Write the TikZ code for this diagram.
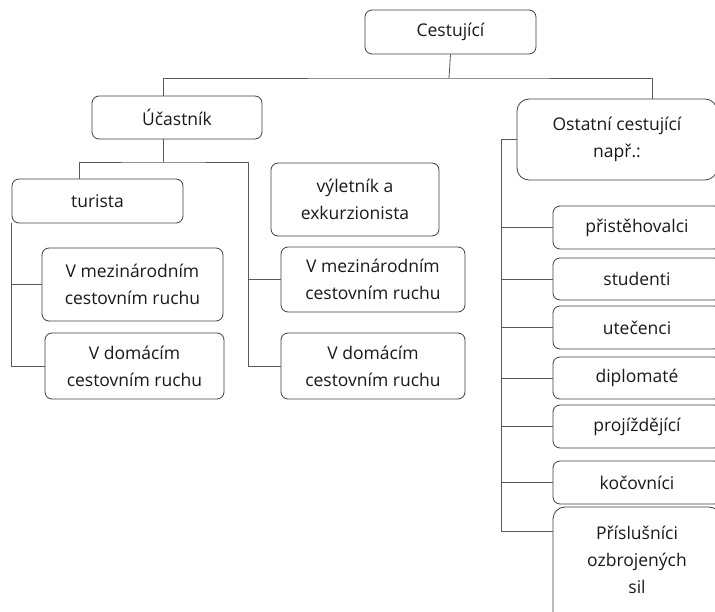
\documentclass[tikz,border=0pt]{standalone}
\usepackage{fontspec}
\setmainfont{Open Sans}
\usetikzlibrary{positioning}
\tikzset{box/.style={draw=black!75,line width=0.8pt,rounded corners=7pt,align=center,inner sep=0pt,text=black!90,font=\fontsize{17.5}{27}\selectfont},
  link/.style={draw=black!65,line width=0.8pt}}

\begin{document}
\begin{tikzpicture}[x=1pt,y=-1pt,line join=round]
\clip (0,0) rectangle (715,612);
\fill[white] (0,0) rectangle (715,612);
% --- top levels
\node[box,minimum width=171,minimum height=44] (cest) at (450.5,32) {Cestující};
\node[box,minimum width=170,minimum height=43] (ucast) at (177,117.5) {Účastník};
\node[box,rounded corners=12pt,minimum width=200,minimum height=81] (ostatni) at (617,139.5) {Ostatní cestující\\ např.:};
% --- left branch
\node[box,minimum width=171,minimum height=44] (turista) at (97.5,201) {turista};
\node[box,minimum width=168,minimum height=73] (vylet) at (355,199.5) {výletník a\\ exkurzionista};
\node[box,minimum width=181,minimum height=73] (mezL) at (132.5,284.5) {V mezinárodním\\ cestovním ruchu};
\node[box,minimum width=179,minimum height=66] (domL) at (134.5,366) {V domácím\\ cestovním ruchu};
\node[box,minimum width=184,minimum height=65] (mezR) at (373,279.5) {V mezinárodním\\ cestovním ruchu};
\node[box,minimum width=184,minimum height=66] (domR) at (373,366) {V domácím\\ cestovním ruchu};
% --- right column
\foreach \n/\y/\h/\t in {pris/227.5/43/přistěhovalci,stud/279/42/studenti,utec/327.5/43/utečenci,
  dipl/378/42/diplomaté,proj/426.5/43/projíždějící,kocov/482.5/43/kočovníci}
  \node[box,minimum width=168,minimum height=\h] (\n) at (637,\y) {\t};
\node[box,rounded corners=12pt,minimum width=168,minimum height=124] (prisl) at (637,569) {};
\node[font=\fontsize{17.5}{27}\selectfont,text=black!90,align=center] (prisltxt) at (637,560) {Příslušníci\\ ozbrojených\\ sil};
% --- connectors
\coordinate (j0) at (449,78);
\coordinate (j1) at (163,162);
\coordinate (j2) at (248,162);
\draw[link] (cest.south) -- (j0);
\draw[link] ([xshift=-14]ucast.north) |- (j0) -| ([xshift=35]ostatni.north);
\draw[link] ([xshift=-14]ucast.south) -- (j1);
\draw[link] ([xshift=-18.5]turista.north) |- (j1) -- (j2) |- (domR.west);
\draw[link] (j2 |- mezR.west) -- (mezR.west);
\draw[link] (turista.south west) |- (domL.west);
\draw[link] (turista.south west |- mezL.west) -- (mezL.west);
\draw[link] (ostatni.west) -- ++(-15,0) coordinate (j3) |- ([yshift=38]prisl.west);
\foreach \n in {pris,stud,utec,dipl,proj,kocov}
  \draw[link] (j3 |- \n.west) -- (\n.west);
\end{tikzpicture}
\end{document}
